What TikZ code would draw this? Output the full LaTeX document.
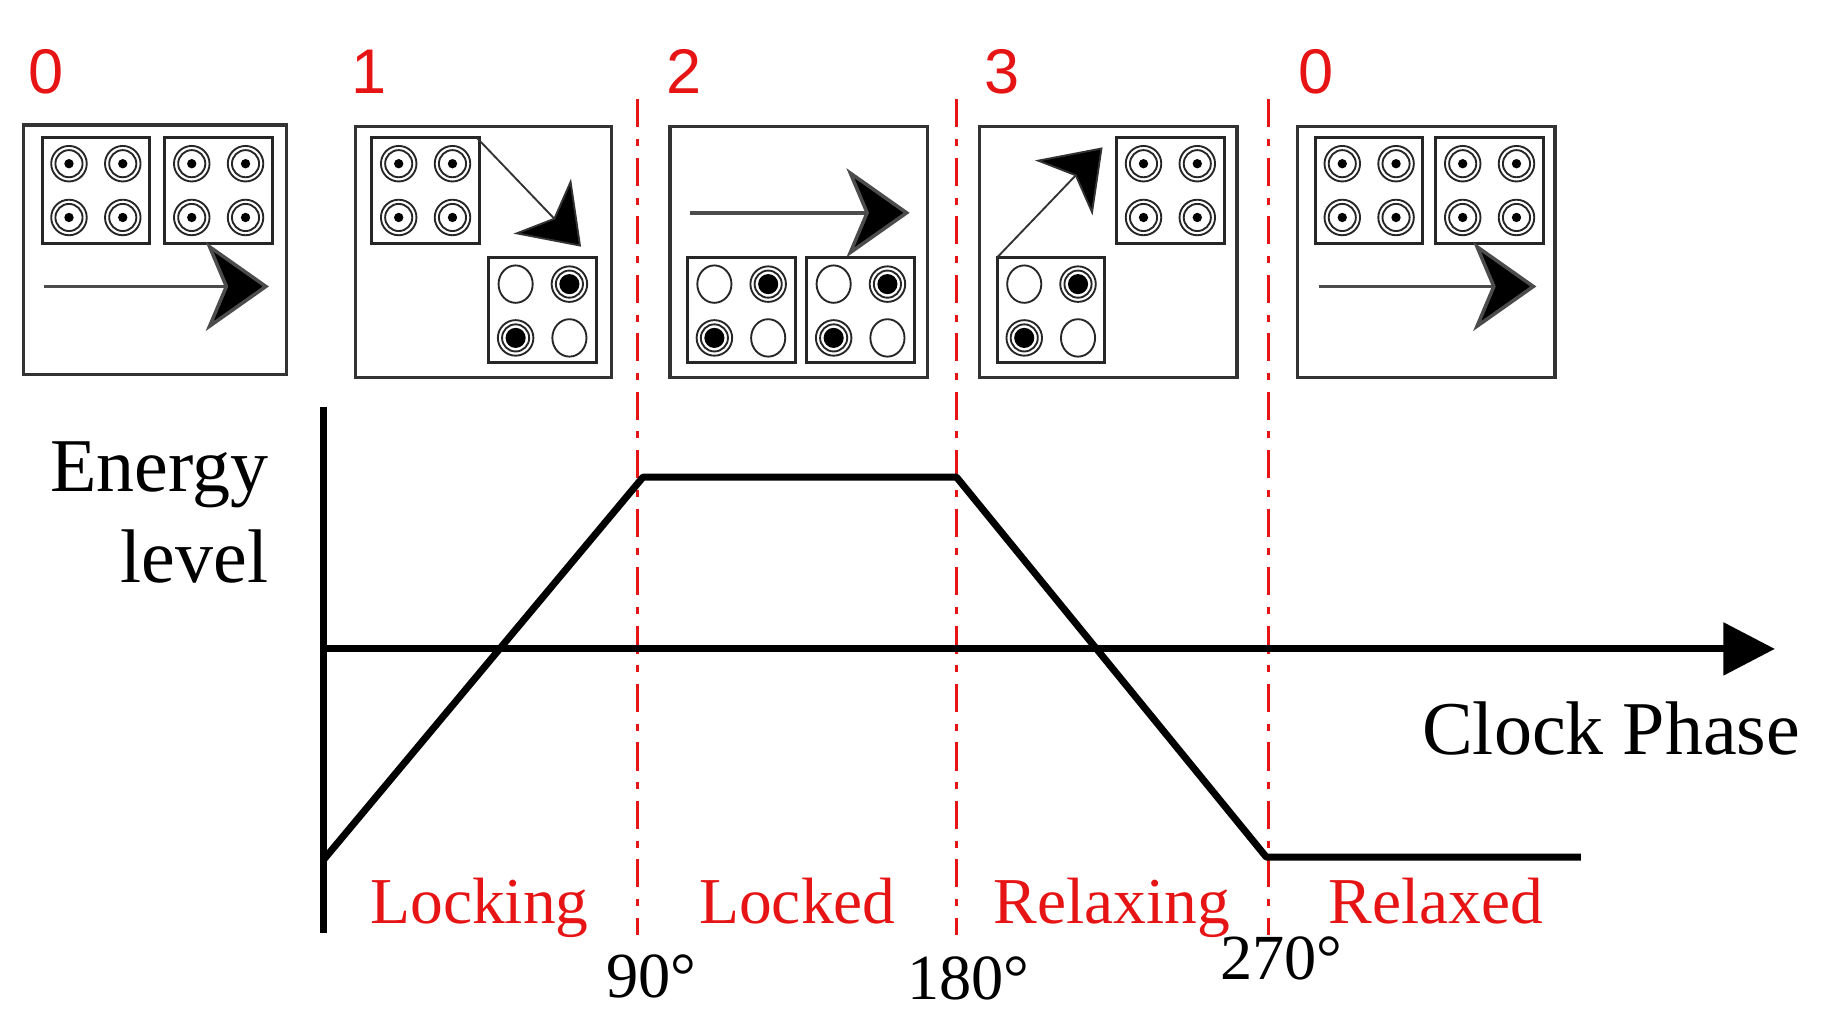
\documentclass[tikz,border=0pt]{standalone}
\usepackage{fontspec}
\setmainfont{Liberation Serif}
\newfontfamily\sansf{Liberation Sans}
\usetikzlibrary{arrows.meta}
\definecolor{qred}{RGB}{230,20,20}
\begin{document}
\begin{tikzpicture}[x=0.5pt,y=-0.5pt,
  box/.style={draw=black!80,line width=1.4pt},
  cell/.style={draw=black!85,line width=1.3pt},
  ring/.style={draw=black!85,line width=0.8pt,fill=white},
  bigarr/.style={draw=black!70,line width=1.5pt,-{Stealth[length=27pt,width=38pt,inset=8pt,fill=black]}},
  thinarr/.style={draw=black!80,line width=0.8pt,-{Stealth[length=24pt,width=34pt,inset=7pt,fill=black]}},
  num/.style={text=qred,font=\sansf\fontsize{27}{30}\selectfont,anchor=base west,inner sep=0},
  phase/.style={text=qred,font=\fontsize{28}{30}\selectfont,anchor=base,inner sep=0},
  deg/.style={font=\fontsize{27.5}{30}\selectfont,anchor=base,inner sep=0},
  lbl/.style={font=\fontsize{32.5}{36}\selectfont,inner sep=0},
  rdash/.style={draw=qred,line width=1.2pt,dash pattern=on 12pt off 5pt on 3pt off 5pt},
  thick line/.style={line width=3pt,black}]
\useasboundingbox (0,0) rectangle (1560,868);
% cells
\newcommand{\upc}[2]{\draw[ring] (#1,#2) circle[radius=7.6pt];\draw[ring] (#1,#2) circle[radius=5.8pt];\fill (#1,#2) circle[radius=2pt];}
\newcommand{\emc}[2]{\draw[ring] (#1,#2) ellipse[x radius=7.3pt,y radius=8pt];}
\newcommand{\flc}[2]{\draw[ring] (#1,#2) circle[radius=7.6pt];\draw[ring] (#1,#2) circle[radius=5.8pt];\fill (#1,#2) circle[radius=4.3pt];}
\newcommand{\cellU}[2]{\draw[cell] (#1,#2) rectangle ++(92,90);
  \upc{#1+23}{#2+22}\upc{#1+69}{#2+22}\upc{#1+23}{#2+68}\upc{#1+69}{#2+68}}
\newcommand{\cellP}[2]{\draw[cell] (#1,#2) rectangle ++(92,90);
  \emc{#1+23}{#2+23}\flc{#1+69}{#2+23}\flc{#1+23}{#2+69}\emc{#1+69}{#2+69}}
% labels
\node[num] (n0) at (24,80) {0};
\node[num] (n1) at (300,80) {1};
\node[num] (n2) at (570,80) {2};
\node[num] (n3) at (842,80) {3};
\node[num] (n4) at (1110,80) {0};
% boxes
\draw[box] (20,107) rectangle (245,320);
\cellU{36}{118}\cellU{141}{118}
\draw[bigarr] (38,245) -- (230,245);
\draw[box] (304,108) rectangle (523,323);
\cellU{318}{118}\cellP{418}{220}
\coordinate (s1) at (408,118); \coordinate (t1) at (497,211);
\draw[thinarr] (s1) -- (t1);
\draw[box] (573,108) rectangle (793,323);
\draw[bigarr] (590,182) -- (778,182);
\cellP{588}{220}\cellP{690}{220}
\draw[box] (838,108) rectangle (1058,323);
\cellU{955}{118}\cellP{853}{220}
\coordinate (s3) at (853,220); \coordinate (t3) at (943,126);
\draw[thinarr] (s3) -- (t3);
\draw[box] (1110,108) rectangle (1330,323);
\cellU{1125}{118}\cellU{1228}{118}
\draw[bigarr] (1128,245) -- (1314,245);
% dashed lines
\draw[rdash] (545,85) -- (545,800);
\draw[rdash] (818,85) -- (818,800);
\draw[rdash] (1085,85) -- (1085,800);
% axes
\coordinate (o) at (277,555);
\coordinate (xe) at (1518,555);
\draw[thick line] (277,348) -- (277,798);
\draw[thick line,-{Triangle[length=22pt,width=22pt]}] (o) -- (xe);
\draw[thick line,line join=round] (277,735) -- (550,408) -- (818,408) -- (1083,733) -- (1352,733);
% texts
\node[lbl,anchor=base east] (e1) at (230,420) {Energy};
\node[lbl,anchor=base east] (e2) at (230,498) {level};
\node[lbl,anchor=base west] (cp) at (1216,645) {Clock Phase};
\node[phase] (p1) at (410,790) {Locking};
\node[phase] (p2) at (682,790) {Locked};
\node[phase] (p3) at (951,790) {Relaxing};
\node[phase] (p4) at (1228,790) {Relaxed};
\node[deg] (d1) at (557,853) {90°};
\node[deg] (d2) at (828,855) {180°};
\node[deg] (d3) at (1096,838) {270°};
\end{tikzpicture}
\end{document}
